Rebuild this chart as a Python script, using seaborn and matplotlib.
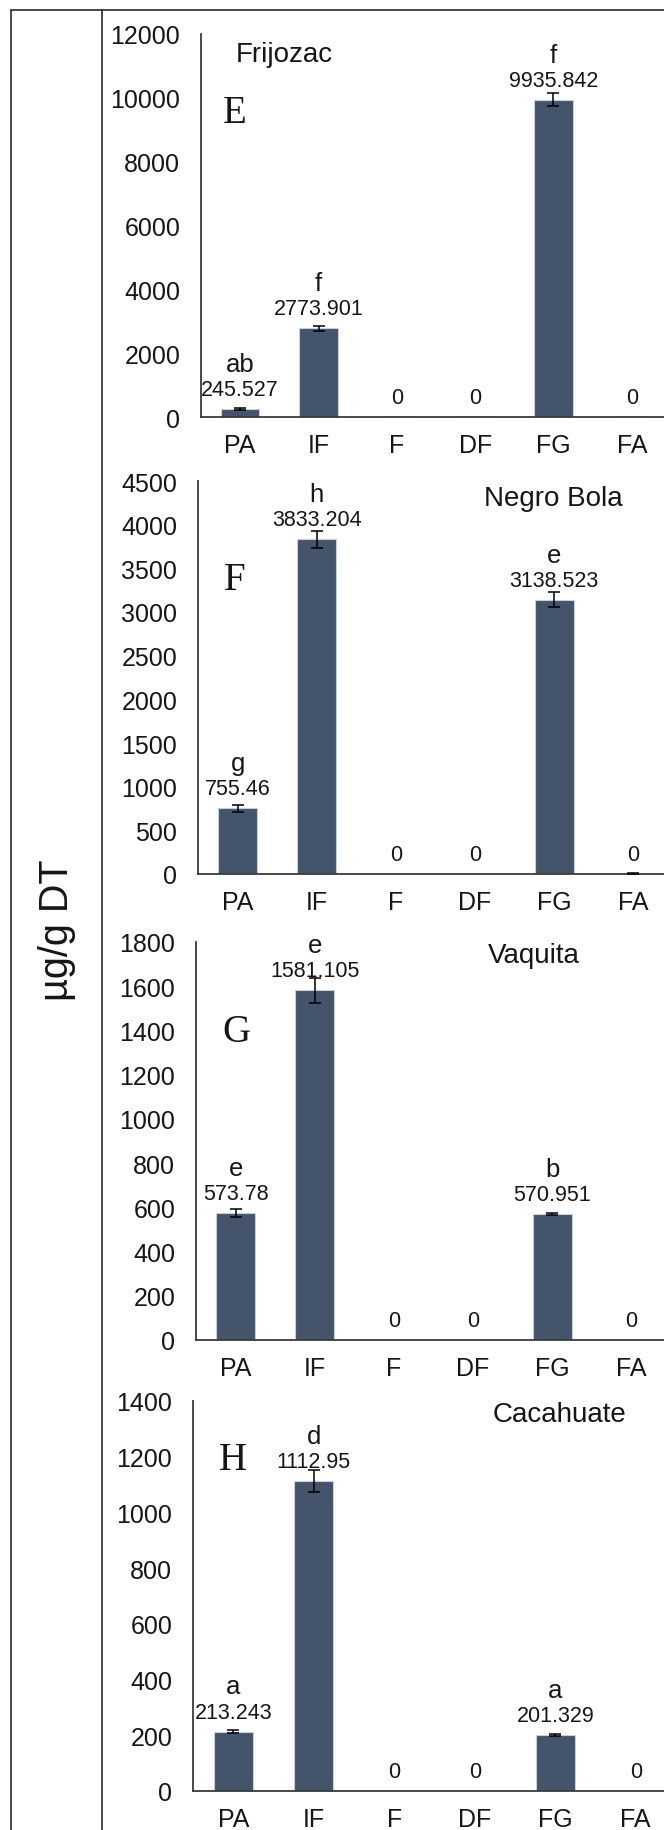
import matplotlib
matplotlib.use("Agg")
import matplotlib.pyplot as plt
from matplotlib.lines import Line2D
from matplotlib import font_manager
import seaborn as sns
import pandas as pd

# ---- data -------------------------------------------------------------
categories = ["PA", "IF", "F", "DF", "FG", "FA"]

varieties = ["Frijozac", "Negro Bola", "Vaquita", "Cacahuate"]
panel_tags = ["E", "F", "G", "H"]

frijozac_mean = [245.527, 2773.901, 0, 0, 9935.842, 0]
negro_bola_mean = [755.46, 3833.204, 0, 0, 3138.523, 0]
vaquita_mean = [573.78, 1581.105, 0, 0, 570.951, 0]
cacahuate_mean = [213.243, 1112.95, 0, 0, 201.329, 0]

frijozac_err = [30, 80, 0, 0, 200, 0]
negro_bola_err = [40, 97, 0, 0, 86, 12]
vaquita_err = [19, 55, 0, 0, 5, 0]
cacahuate_err = [6, 41, 0, 0, 5, 0]

frijozac_letters = ["ab", "f", "", "", "f", ""]
negro_bola_letters = ["g", "h", "", "", "e", ""]
vaquita_letters = ["e", "e", "", "", "b", ""]
cacahuate_letters = ["a", "d", "", "", "a", ""]

y_max = [12000, 4500, 1800, 1400]
y_step = [2000, 500, 200, 200]

means = [frijozac_mean, negro_bola_mean, vaquita_mean, cacahuate_mean]
errs = [frijozac_err, negro_bola_err, vaquita_err, cacahuate_err]
letters = [frijozac_letters, negro_bola_letters, vaquita_letters, cacahuate_letters]

# ---- style ------------------------------------------------------------
sns.set_style("white")
installed = {f.name for f in font_manager.fontManager.ttflist}
plt.rcParams["font.family"] = ["Liberation Sans", "DejaVu Sans"]
if "Liberation Sans Narrow" in installed:
    ylabel_family = ["Liberation Sans Narrow", "Liberation Sans", "DejaVu Sans"]
    ylabel_size = 33
else:
    ylabel_family = ["Liberation Sans", "DejaVu Sans"]
    ylabel_size = 28.5

BAR = "#44546A"
INK = "#161616"
AXIS = "#3a3a3a"

W, H = 664, 1831
fig = plt.figure(figsize=(W / 100, H / 100), dpi=100)

# pixel boxes of each plot area: left, top, bottom, width
boxes = [
    (201, 35, 418, 470),
    (198, 482, 875, 475),
    (196, 943, 1341, 475),
    (193, 1402, 1792, 483),
]
title_pos = [(0.074, 0.948, "left"), (0.749, 0.957, "center"),
             (0.712, 0.967, "center"), (0.758, 0.967, "center")]
tag_pos = [(0.072, 0.796), (0.077, 0.750), (0.085, 0.776), (0.083, 0.851)]


def fmt(v):
    s = f"{v:.3f}".rstrip("0").rstrip(".")
    return s if s else "0"


for k in range(4):
    left, top, bottom, width = boxes[k]
    ax = fig.add_axes([left / W, (H - bottom) / H, width / W, (bottom - top) / H])
    df = pd.DataFrame({"cat": categories, "val": means[k]})
    sns.barplot(data=df, x="cat", y="val", order=categories, color=BAR,
                saturation=1, width=0.49, edgecolor="#c5d0dc", linewidth=0.8,
                ax=ax)

    pos = [i for i, e in enumerate(errs[k]) if e > 0]
    ax.errorbar(pos,
                [means[k][i] for i in pos],
                yerr=[errs[k][i] for i in pos],
                fmt="none", ecolor="black", elinewidth=1.1, capsize=4,
                capthick=1.1, zorder=4)

    for i, v in enumerate(means[k]):
        ax.annotate(fmt(v), xy=(i, v), xytext=(0, 6.5), textcoords="offset points",
                    ha="center", va="bottom", fontsize=15.5, color=INK, zorder=5)
        if letters[k][i]:
            ax.annotate(letters[k][i], xy=(i, v), xytext=(0, 27.5),
                        textcoords="offset points", ha="center", va="baseline",
                        fontsize=18.5, color=INK, zorder=5)

    ax.set_xlim(-0.5, 5.5)
    ax.set_ylim(0, y_max[k])
    ax.set_yticks(range(0, y_max[k] + 1, y_step[k]))
    ax.set_xlabel("")
    ax.set_ylabel("")
    ax.tick_params(axis="both", length=0, labelsize=18, labelcolor=INK)
    ax.tick_params(axis="y", pad=15)
    ax.tick_params(axis="x", pad=11.5)
    for side in ("top", "right"):
        ax.spines[side].set_visible(False)
    for side in ("left", "bottom"):
        ax.spines[side].set_color(AXIS)
        ax.spines[side].set_linewidth(1.3)
    ax.patch.set_alpha(0)

    tx, ty, tha = title_pos[k]
    ax.text(tx, ty, varieties[k], transform=ax.transAxes, ha=tha, va="center",
            fontsize=20, color=INK)
    gx, gy = tag_pos[k]
    ax.text(gx, gy, panel_tags[k], transform=ax.transAxes, ha="center",
            va="center", fontsize=28, color=INK,
            family=["Liberation Serif", "DejaVu Serif"])

# frame of the table layout
def px_line(x0, y0, x1, y1):
    fig.add_artist(Line2D([x0 / W, x1 / W], [1 - y0 / H, 1 - y1 / H],
                          color="#2a2a2a", linewidth=1.2))

px_line(10.5, 11, 10.5, H)
px_line(102, 11, 102, H)
px_line(10.5, 11, W, 11)

fig.text(57 / W, 1 - 930 / H, "µg/g DT", rotation=90, ha="center", va="center",
         fontsize=ylabel_size, color=INK, family=ylabel_family)

fig.savefig("out.png", dpi=100, facecolor="white")
